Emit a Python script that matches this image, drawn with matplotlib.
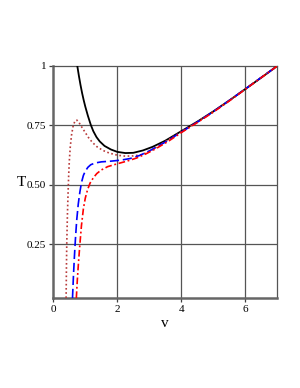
import numpy as np
import matplotlib
matplotlib.use("Agg")
import matplotlib.pyplot as plt

# values (v, T)
v_black = [0.75, 0.80, 0.85, 0.90, 0.95, 1.00, 1.08, 1.17, 1.25, 1.35, 1.45, 1.60,
           1.80, 2.00, 2.25, 2.50, 2.80, 3.10, 3.50, 4.00, 4.50, 5.00, 5.50, 6.00,
           6.50, 7.00]
T_black = [1.000, 0.958, 0.920, 0.886, 0.856, 0.829, 0.791, 0.753, 0.726, 0.701, 0.683, 0.664,
           0.649, 0.639, 0.634, 0.635, 0.645, 0.660, 0.686, 0.726, 0.766, 0.809, 0.855, 0.903,
           0.951, 1.000]

v_dot = [0.40, 0.41, 0.42, 0.44, 0.46, 0.48, 0.50, 0.53, 0.57, 0.62, 0.68, 0.74,
         0.80, 0.89, 1.00, 1.10, 1.22, 1.36, 1.55, 1.75, 2.00, 2.25, 2.50, 2.75,
         3.00, 3.50, 4.00, 4.50, 5.00, 5.50, 6.00, 6.50, 7.00]
T_dot = [0.025, 0.15, 0.25, 0.37, 0.46, 0.54, 0.60, 0.66, 0.71, 0.748, 0.770, 0.772,
         0.763, 0.743, 0.720, 0.699, 0.679, 0.661, 0.645, 0.634, 0.625, 0.621, 0.622, 0.627,
         0.640, 0.682, 0.724, 0.765, 0.808, 0.855, 0.903, 0.952, 1.000]

v_blue = [0.60, 0.63, 0.66, 0.69, 0.73, 0.78, 0.83, 0.88, 0.94, 1.00, 1.08, 1.17,
          1.30, 1.50, 1.80, 2.10, 2.40, 2.70, 3.00, 3.50, 4.00, 4.50, 5.00, 5.50,
          6.00, 6.50, 7.00]
T_blue = [0.025, 0.12, 0.20, 0.27, 0.35, 0.42, 0.47, 0.51, 0.54, 0.558, 0.574, 0.585,
          0.592, 0.597, 0.600, 0.604, 0.611, 0.624, 0.643, 0.680, 0.722, 0.764, 0.808, 0.855,
          0.903, 0.952, 1.000]

v_red = [0.72, 0.75, 0.79, 0.83, 0.88, 0.94, 1.00, 1.07, 1.15, 1.25, 1.36, 1.50,
         1.70, 2.00, 2.30, 2.60, 2.90, 3.20, 3.60, 4.00, 4.50, 5.00, 5.50, 6.00,
         6.50, 7.00]
T_red = [0.025, 0.10, 0.18, 0.25, 0.33, 0.40, 0.445, 0.48, 0.508, 0.530, 0.548, 0.563,
         0.577, 0.589, 0.600, 0.613, 0.631, 0.652, 0.684, 0.720, 0.762, 0.806, 0.853, 0.902,
         0.951, 1.000]

xticks = [0, 2, 4, 6]
yticks = [0.25, 0.50, 0.75, 1.0]
yticklabels = ["0.25", "0.50", "0.75", "1"]

plt.rcParams["font.family"] = ["Liberation Serif", "DejaVu Serif"]

fig = plt.figure(figsize=(3.0, 3.88), dpi=100)
ax = fig.add_axes([0.1777, 0.232, 0.7466, 0.598])

grid_c = "#555555"
for x in xticks[1:]:
    ax.axvline(x, color=grid_c, lw=0.9, zorder=1)
for y in yticks[:-1]:
    ax.axhline(y, color=grid_c, lw=0.9, zorder=1)

lw = 1.2
ax.plot(v_black, T_black, color="black", lw=1.3, zorder=3)
ax.plot(v_dot, T_dot, color="#b83a3a", lw=lw, ls=(0, (1, 1.5)), zorder=4)
ax.plot(v_blue, T_blue, color="#0000ff", lw=lw, ls=(0, (5.5, 2.3)), zorder=5)
ax.plot(v_red, T_red, color="#ff0000", lw=lw, ls=(0, (4.0, 1.6, 1.1, 1.6)), zorder=6)

ax.set_xlim(0, 7)
ax.set_ylim(0.025, 1.0)
ax.set_xticks(xticks)
ax.set_xticklabels([str(t) for t in xticks])
ax.set_yticks(yticks)
ax.set_yticklabels(yticklabels)
ax.tick_params(axis="both", length=3, width=0.9, color="#404040",
               labelsize=8, pad=2)

for side in ["top", "right"]:
    ax.spines[side].set_color(grid_c)
    ax.spines[side].set_linewidth(0.9)
for side in ["left", "bottom"]:
    ax.spines[side].set_color("#666666")
    ax.spines[side].set_linewidth(1.8)

ax.set_xlabel("v", fontsize=11, labelpad=2)
ax.set_ylabel("T", fontsize=11, rotation=0, ha="center", va="center")
ax.yaxis.set_label_coords(-0.143, 0.496)

fig.savefig("out.png", dpi=100)
